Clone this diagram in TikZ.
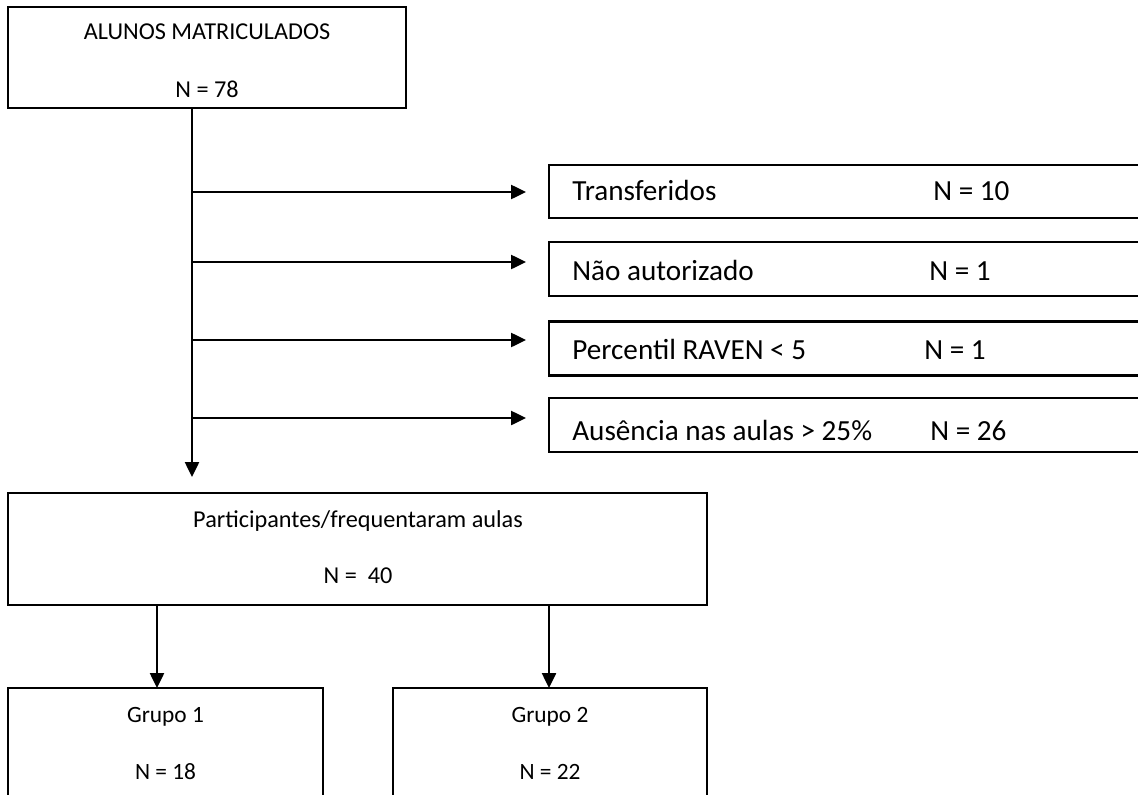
\documentclass[tikz,border=0pt]{standalone}
\usepackage{fontspec}
\setmainfont{Carlito}
\usepackage{tikz}
\usetikzlibrary{arrows.meta}

\begin{document}
\begin{tikzpicture}[x=0.02cm, y=-0.02cm,
    caixa/.style={draw, line width=1.3pt, inner sep=0pt},
    texto/.style={inner sep=0pt, font=\fontsize{#1}{1.2em}\selectfont},
    seta/.style={line width=1.2pt, -{Triangle[length=8.5pt,width=8pt]}}]
    \clip (0,0) rectangle (1138,794);
    % boxes
    \node[caixa, minimum width=7.96cm, minimum height=2.02cm] (alunos) at (207,57.5) {};
    \node[caixa, minimum width=12.22cm, minimum height=1.06cm] (transf) at (854.5,191.5) {};
    \node[caixa, minimum width=12.22cm, minimum height=1.08cm] (naoaut) at (854.5,269) {};
    \node[caixa, minimum width=12.22cm, minimum height=1.08cm] (raven) at (854.5,348.5) {};
    \node[caixa, minimum width=12.22cm, minimum height=1.08cm] (ausencia) at (854.5,425) {};
    \node[caixa, minimum width=13.98cm, minimum height=2.24cm] (partic) at (357.5,549) {};
    \node[caixa, minimum width=6.3cm, minimum height=2.44cm] (grupo1) at (165.5,749) {};
    \node[caixa, minimum width=6.28cm, minimum height=2.44cm] (grupo2) at (550,749) {};
    % texts
    \node[texto=13.8, anchor=base] at (207,40) {ALUNOS MATRICULADOS};
    \node[texto=13.8, anchor=base] at (207,97) {N = 78};
    \node[texto=16.6, anchor=base west] at (572,200) {Transferidos};
    \node[texto=16.6, anchor=base west] at (933,200) {N = 10};
    \node[texto=16.6, anchor=base west] at (572,280) {Não autorizado};
    \node[texto=16.6, anchor=base west] at (929,280) {N = 1};
    \node[texto=16.6, anchor=base west] at (572,359) {Percentil RAVEN < 5};
    \node[texto=16.6, anchor=base west] at (924,359) {N = 1};
    \node[texto=16.6, anchor=base west] at (572,440) {Ausência nas aulas > 25\%};
    \node[texto=16.6, anchor=base west] at (930,440) {N = 26};
    \node[texto=13.8, anchor=base] at (358,527) {Participantes/frequentaram aulas};
    \node[texto=13.8, anchor=base] at (358,583) {N = \ 40};
    \node[texto=13.3, anchor=base] at (165.5,722.5) {Grupo 1};
    \node[texto=13.3, anchor=base] at (165.5,779) {N = 18};
    \node[texto=13.3, anchor=base] at (550,722.5) {Grupo 2};
    \node[texto=13.3, anchor=base] at (550,779) {N = 22};
    % trunk and side arrows
    \coordinate (tronco) at (192,477);
    \draw[seta] (alunos.south -| tronco) -- (tronco);
    \foreach \y/\n in {192/1, 262/2, 340/3, 418/4}
      \coordinate (s\n) at (526,\y);
    \draw[seta] (s1 -| tronco) -- (s1);
    \draw[seta] (s2 -| tronco) -- (s2);
    \draw[seta] (s3 -| tronco) -- (s3);
    \draw[seta] (s4 -| tronco) -- (s4);
    % arrows to the groups
    \coordinate (ramo1) at (157,688);
    \coordinate (ramo2) at (549,688);
    \draw[seta] (partic.south -| ramo1) -- (ramo1);
    \draw[seta] (partic.south -| ramo2) -- (ramo2);
\end{tikzpicture}
\end{document}
